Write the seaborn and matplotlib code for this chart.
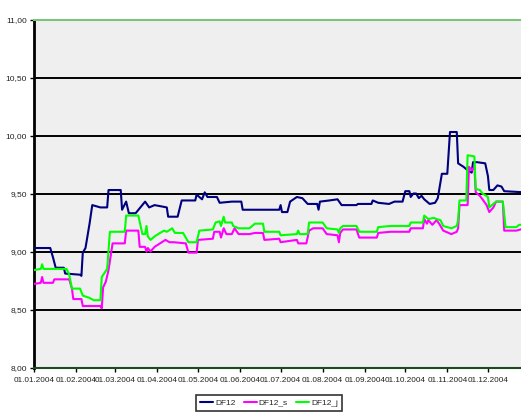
import pandas as pd
import matplotlib
matplotlib.use("Agg")
import matplotlib.pyplot as plt
import matplotlib.dates as mdates
import seaborn as sns

# -------------------------
# Data: day offset from 01.01.2004 and value
# -------------------------
df12_days = [0, 12, 14, 16, 22, 23, 34, 35, 36, 38, 41, 43, 49, 54, 55, 64, 65, 68, 70, 75,
             82, 85, 89, 98, 99, 106, 109, 119, 120, 124, 126, 128, 135, 137, 146, 153, 154,
             174, 181, 182, 183, 187, 189, 194, 198, 202, 209, 210, 211, 218, 224, 227, 238,
             239, 249, 250, 254, 262, 266, 272, 274, 277, 278, 280, 282, 284, 286, 288, 290,
             292, 296, 298, 301, 305, 307, 312, 313, 317, 320, 323, 324, 327, 333, 335, 336,
             339, 342, 345, 347, 362]
df12_vals = [9.03, 9.03, 8.95, 8.86, 8.86, 8.81, 8.80, 8.79, 8.99, 9.03, 9.24, 9.40, 9.38, 9.38,
             9.53, 9.53, 9.36, 9.43, 9.33, 9.33, 9.43, 9.38, 9.40, 9.38, 9.30, 9.30, 9.44, 9.44,
             9.49, 9.45, 9.51, 9.47, 9.47, 9.42, 9.43, 9.43, 9.36, 9.36, 9.36, 9.40, 9.34, 9.34,
             9.43, 9.47, 9.46, 9.41, 9.41, 9.36, 9.43, 9.44, 9.45, 9.40, 9.40, 9.41, 9.41, 9.44,
             9.42, 9.41, 9.43, 9.43, 9.52, 9.52, 9.47, 9.50, 9.50, 9.46, 9.48, 9.45, 9.43, 9.41,
             9.42, 9.46, 9.67, 9.67, 10.03, 10.03, 9.76, 9.73, 9.70, 9.68, 9.77, 9.77, 9.76, 9.65,
             9.53, 9.53, 9.57, 9.56, 9.52, 9.51]

df12_s_days = [0, 5, 6, 7, 14, 15, 26, 28, 29, 35, 36, 49, 50, 51, 53, 55, 58, 67, 68, 77, 78,
               82, 83, 84, 86, 89, 93, 97, 100, 103, 112, 114, 120, 121, 132, 133, 137, 138, 140,
               142, 146, 148, 151, 159, 163, 169, 170, 181, 182, 188, 194, 195, 201, 203, 206,
               213, 216, 224, 225, 226, 228, 238, 240, 253, 254, 263, 277, 278, 287, 288, 290,
               291, 294, 297, 299, 302, 308, 312, 313, 314, 320, 321, 323, 325, 326, 329, 331,
               334, 336, 339, 341, 346, 347, 356, 362]
df12_s_vals = [8.72, 8.73, 8.78, 8.73, 8.73, 8.76, 8.76, 8.68, 8.59, 8.59, 8.53, 8.53, 8.51, 8.69,
               8.74, 8.84, 9.07, 9.07, 9.18, 9.18, 9.04, 9.04, 9.00, 9.03, 9.00, 9.04, 9.07, 9.10,
               9.08, 9.08, 9.07, 8.99, 8.99, 9.10, 9.11, 9.17, 9.17, 9.12, 9.20, 9.15, 9.15, 9.20,
               9.15, 9.15, 9.16, 9.16, 9.10, 9.11, 9.08, 9.09, 9.10, 9.07, 9.07, 9.18, 9.20, 9.20,
               9.15, 9.14, 9.08, 9.16, 9.19, 9.19, 9.12, 9.12, 9.16, 9.17, 9.17, 9.20, 9.20, 9.28,
               9.24, 9.27, 9.23, 9.27, 9.24, 9.18, 9.15, 9.17, 9.20, 9.40, 9.40, 9.73, 9.70, 9.73,
               9.51, 9.48, 9.45, 9.40, 9.34, 9.38, 9.43, 9.43, 9.18, 9.18, 9.20]

df12_j_days = [0, 5, 6, 7, 24, 26, 28, 34, 36, 41, 44, 49, 50, 54, 56, 67, 68, 77, 80, 82, 83,
               84, 86, 89, 93, 96, 98, 102, 104, 110, 114, 120, 122, 132, 134, 137, 138, 140,
               141, 146, 147, 151, 159, 163, 169, 170, 181, 182, 194, 195, 196, 202, 203, 213,
               216, 224, 225, 226, 228, 238, 240, 253, 254, 263, 277, 278, 287, 288, 291, 295,
               297, 300, 302, 308, 312, 313, 314, 319, 320, 325, 326, 329, 331, 335, 336, 339,
               341, 346, 348, 356, 358, 362]
df12_j_vals = [8.84, 8.85, 8.89, 8.85, 8.85, 8.80, 8.68, 8.68, 8.62, 8.60, 8.58, 8.58, 8.78, 8.85,
               9.17, 9.17, 9.31, 9.31, 9.15, 9.15, 9.22, 9.13, 9.10, 9.13, 9.16, 9.18, 9.17, 9.20,
               9.16, 9.16, 9.08, 9.08, 9.18, 9.19, 9.25, 9.26, 9.22, 9.30, 9.25, 9.25, 9.22, 9.20,
               9.20, 9.24, 9.24, 9.17, 9.17, 9.14, 9.15, 9.18, 9.15, 9.15, 9.25, 9.25, 9.20, 9.19,
               9.16, 9.20, 9.22, 9.22, 9.17, 9.17, 9.21, 9.22, 9.22, 9.25, 9.25, 9.31, 9.28, 9.29,
               9.28, 9.27, 9.22, 9.20, 9.22, 9.27, 9.44, 9.44, 9.83, 9.82, 9.54, 9.53, 9.50, 9.47,
               9.38, 9.41, 9.43, 9.43, 9.21, 9.21, 9.23, 9.23]

series_names = ["DF12", "DF12_s", "DF12_j"]
series_colors = ["#000080", "#ff00ff", "#00ff00"]
month_ticks = pd.date_range("2004-01-01", "2004-12-01", freq="MS")
y_ticks = [8.0, 8.5, 9.0, 9.5, 10.0, 10.5, 11.0]

start = pd.Timestamp("2004-01-01")
frames = []
for name, days, vals in [("DF12", df12_days, df12_vals),
                         ("DF12_s", df12_s_days, df12_s_vals),
                         ("DF12_j", df12_j_days, df12_j_vals)]:
    frames.append(pd.DataFrame({"date": start + pd.to_timedelta(days, unit="D"),
                                "value": vals, "series": name}))
df = pd.concat(frames, ignore_index=True)

# -------------------------
# Plot
# -------------------------
sns.set_style("white")
plt.rcParams["font.family"] = ["Liberation Sans", "DejaVu Sans"]

fig = plt.figure(figsize=(5.21, 4.12), dpi=100)
ax = fig.add_axes([34 / 521, 1 - 367.5 / 412, 1 - 34 / 521, (367.5 - 19.5) / 412])
ax.set_facecolor("#efefef")

for y in y_ticks[1:-1]:
    ax.axhline(y, color="black", lw=1.4, zorder=1)

sns.lineplot(data=df, x="date", y="value", hue="series", hue_order=series_names,
             palette=series_colors, estimator=None, sort=False, lw=1.5, ax=ax,
             legend=False, zorder=3)

ax.set_ylim(8.0, 11.0)
ax.set_xlim(start, start + pd.Timedelta(days=359.4))
ax.set_yticks(y_ticks)
ax.set_yticklabels([f"{v:.2f}".replace(".", ",") for v in y_ticks], fontsize=6, color="#222222")
ax.set_xticks(month_ticks)
ax.xaxis.set_major_formatter(mdates.DateFormatter("%d.%m.%Y"))
ax.tick_params(axis="x", labelsize=5.9, colors="#222222", length=3, width=1, pad=4, direction="out")
ax.tick_params(axis="y", length=3, width=1, pad=2, direction="out")
ax.tick_params(axis="both", color="black", bottom=True, left=True)
ax.set_xlabel("")
ax.set_ylabel("")

ax.spines["top"].set_color("#7cc47c")
ax.spines["top"].set_linewidth(1.5)
ax.spines["left"].set_color("black")
ax.spines["left"].set_linewidth(2)
ax.spines["bottom"].set_color("#1f4a1f")
ax.spines["bottom"].set_linewidth(1.5)
ax.spines["right"].set_visible(False)

handles = [plt.Line2D([], [], color=c, lw=1.5) for c in series_colors]
leg = fig.legend(handles, series_names, loc="upper center", bbox_to_anchor=(269 / 521, 1 - 391 / 412),
                 ncol=3, fontsize=6, frameon=True, fancybox=False, edgecolor="black",
                 handlelength=1.6, handletextpad=0.2, columnspacing=1.0, borderpad=0.45)
leg.get_frame().set_linewidth(1.2)

fig.savefig("out.png", dpi=100)
